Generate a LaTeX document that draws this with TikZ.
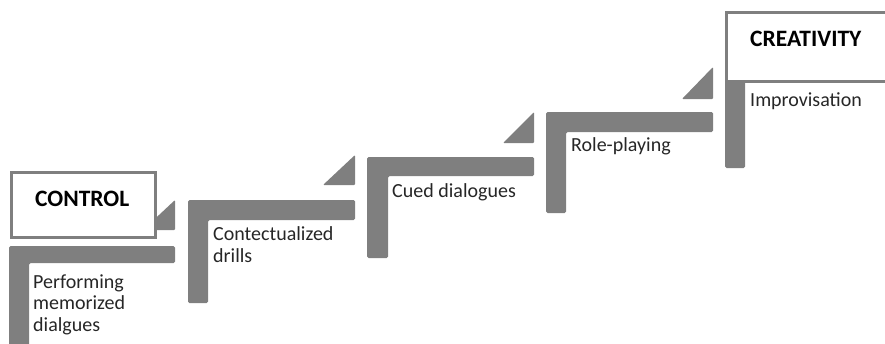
\documentclass[tikz,border=0pt]{standalone}
\usepackage{fontspec}
\setmainfont{Carlito}
\definecolor{stepgray}{RGB}{127,127,127}
\begin{document}
\begin{tikzpicture}[x=1pt,y=-1pt,
  stepbar/.style={fill=stepgray, draw=none, rounded corners=1.5pt},
  steptri/.style={fill=stepgray, draw=none, rounded corners=1pt},
  levelbox/.style={draw=stepgray, line width=3pt, fill=white},
  lbl/.style={anchor=base west, inner sep=0pt, font=\fontsize{20}{21.5}\selectfont, text=black!85, align=left},
  ttl/.style={anchor=base west, inner sep=0pt, font=\fontsize{23.5}{26}\selectfont\bfseries, text=black}]
\useasboundingbox (0,0) rectangle (885,343);
% step 1
\fill[stepbar] (9,246) -- (175,246) -- (175,263) -- (29,263) -- (29,350) -- (9,350) -- cycle;
\fill[steptri] (175,200) -- (175,230) -- (143,230) -- cycle;
% step 2
\fill[stepbar] (188,200) -- (355,200) -- (355,220) -- (208,220) -- (208,303) -- (188,303) -- cycle;
\fill[steptri] (355,155) -- (355,185) -- (323,185) -- cycle;
% step 3
\fill[stepbar] (367,157) -- (534,157) -- (534,176) -- (388,176) -- (388,258) -- (367,258) -- cycle;
\fill[steptri] (534,112) -- (534,143) -- (503,143) -- cycle;
% step 4
\fill[stepbar] (546,112) -- (713,112) -- (713,132) -- (566,132) -- (566,213) -- (546,213) -- cycle;
\fill[steptri] (713,67) -- (713,99) -- (682,99) -- cycle;
% step 5
\fill[stepbar] (725,70) rectangle (745,168);
% boxes
\draw[levelbox] (11.5,172.5) rectangle (155.5,237.5);
\draw[levelbox] (726.5,12.5) rectangle (900,81.5);
% titles
\node[ttl] (control) at (35,206) {CONTROL};
\node[ttl] (creativity) at (750,46) {CREATIVITY};
% labels (base anchor = baseline of last line)
\node[lbl] (perf) at (33,331) {Performing\\memorized\\dialgues};
\node[lbl] (cont) at (213,262) {Contectualized\\drills};
\node[lbl] (cued) at (392,197) {Cued dialogues};
\node[lbl] (role) at (571,151) {Role-playing};
\node[lbl] (impr) at (750,106) {Improvisation};
\end{tikzpicture}
\end{document}
